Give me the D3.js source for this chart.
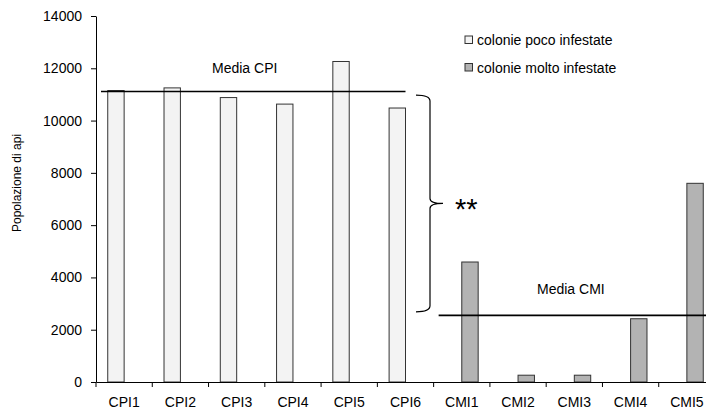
<!DOCTYPE html>
<html>
<head>
<meta charset="utf-8">
<script src="https://cdn.jsdelivr.net/npm/d3@7"></script>
<style>
  body { margin: 0; background: #fff; }
  svg { font-family: Arial, "Liberation Sans", sans-serif; }
  .axis path, .axis line { stroke: #000; }
  .axis text { font-size: 14px; fill: #000; }
</style>
</head>
<body>
<svg id="chart"></svg>
<script>
const categories = ['CPI1', 'CPI2', 'CPI3', 'CPI4', 'CPI5', 'CPI6', 'CMI1', 'CMI2', 'CMI3', 'CMI4', 'CMI5']
const series = ['colonie poco infestate', 'colonie molto infestate']
const pocoValues = [11150, 11250, 10880, 10630, 12260, 10480, 0, 0, 0, 0, 0]
const moltoValues = [0, 0, 0, 0, 0, 0, 4590, 260, 260, 2420, 7600]
const yTicks = [0, 2000, 4000, 6000, 8000, 10000, 12000, 14000]
const mediaCPI = 11110
const mediaCMI = 2550

const WIDTH = 706
const HEIGHT = 414
const LEFT = 96
const TOP = 16
const BOTTOM = 382
const RIGHT = 715 // axis runs past the picture edge, as in the original

const svg = d3.select('#chart').attr('width', WIDTH).attr('height', HEIGHT)

const x = d3.scaleBand().domain(categories).range([LEFT, RIGHT]).padding(0)
const xSub = d3.scaleBand().domain(series).range([0, x.bandwidth()]).paddingInner(0).paddingOuter(0.716)
const y = d3.scaleLinear().domain([0, 14000]).range([BOTTOM, TOP])

const colors = { 'colonie poco infestate': '#f3f3f3', 'colonie molto infestate': '#b3b3b3' }

// bars
const rows = categories.map((c, i) => ({ cat: c, vals: [pocoValues[i], moltoValues[i]] }))
svg.append('g').selectAll('g')
  .data(rows)
  .enter()
  .append('g')
  .attr('transform', d => `translate(${x(d.cat)},0)`)
  .selectAll('rect')
  .data(d => d.vals.map((v, j) => ({ s: series[j], v })).filter(e => e.v > 0))
  .enter()
  .append('rect')
  .attr('x', d => xSub(d.s))
  .attr('y', d => y(d.v))
  .attr('width', xSub.bandwidth())
  .attr('height', d => y(0) - y(d.v))
  .attr('fill', d => colors[d.s])
  .attr('stroke', '#333')
  .attr('stroke-width', 1)

// y axis
svg.append('g')
  .attr('class', 'axis')
  .attr('transform', `translate(${LEFT},0)`)
  .call(d3.axisLeft(y).tickValues(yTicks).tickFormat(d3.format('d'))
    .tickSize(5).tickPadding(9).tickSizeOuter(0))

// x axis: labels centred, ticks on band boundaries
const xAxisG = svg.append('g')
  .attr('class', 'axis')
  .attr('transform', `translate(0,${BOTTOM})`)
  .call(d3.axisBottom(x).tickSize(0).tickPadding(17).tickSizeOuter(0))
xAxisG.selectAll('.tick text').attr('dy', '0.55em')
xAxisG.selectAll('line.bound')
  .data(categories.map(c => x(c)).concat([RIGHT]))
  .enter()
  .append('line')
  .attr('class', 'bound')
  .attr('x1', d => d).attr('x2', d => d)
  .attr('y1', 0).attr('y2', 5)

// y axis title
svg.append('text')
  .attr('transform', `translate(21,183) rotate(-90)`)
  .attr('text-anchor', 'middle')
  .style('font-size', '12px')
  .text('Popolazione di api')

// mean lines
const barRight = c => x(c) + xSub(series[0]) + xSub.bandwidth()
svg.append('line')
  .attr('x1', x('CPI1') + 5).attr('x2', barRight('CPI6'))
  .attr('y1', y(mediaCPI)).attr('y2', y(mediaCPI))
  .attr('stroke', '#000').attr('stroke-width', 1.6)
svg.append('line')
  .attr('x1', x('CMI1') + 5).attr('x2', RIGHT)
  .attr('y1', y(mediaCMI)).attr('y2', y(mediaCMI))
  .attr('stroke', '#000').attr('stroke-width', 1.6)

svg.append('text')
  .attr('x', 212).attr('y', y(mediaCPI) - 19)
  .style('font-size', '14px')
  .text('Media CPI')
svg.append('text')
  .attr('x', 537).attr('y', y(mediaCMI) - 21)
  .style('font-size', '14px')
  .text('Media CMI')

// brace between the two means
const bTop = y(mediaCPI) + 3.5
const bBot = y(mediaCMI) - 3.5
const bMid = (bTop + bBot) / 2
const bx0 = 416, bx1 = 430, bx2 = 443
svg.append('path')
  .attr('d', `M${bx0},${bTop} Q${bx1},${bTop} ${bx1},${bTop + 6}
    L${bx1},${bMid - 5} Q${bx1},${bMid} ${bx2},${bMid}
    Q${bx1},${bMid} ${bx1},${bMid + 5}
    L${bx1},${bBot - 6} Q${bx1},${bBot} ${bx0},${bBot}`)
  .attr('fill', 'none')
  .attr('stroke', '#000')
  .attr('stroke-width', 1.2)

svg.append('text')
  .attr('x', 455).attr('y', bMid + 16)
  .style('font-size', '29px')
  .text('**')

// legend
const legend = svg.append('g').attr('transform', 'translate(465,36)')
series.forEach((s, i) => {
  const g = legend.append('g').attr('transform', `translate(0,${i * 27.5})`)
  g.append('rect')
    .attr('width', 7.5).attr('height', 7.5)
    .attr('fill', colors[s]).attr('stroke', '#333')
  g.append('text')
    .attr('x', 12).attr('y', 9)
    .style('font-size', '14px')
    .text(s)
})
</script>
</body>
</html>
